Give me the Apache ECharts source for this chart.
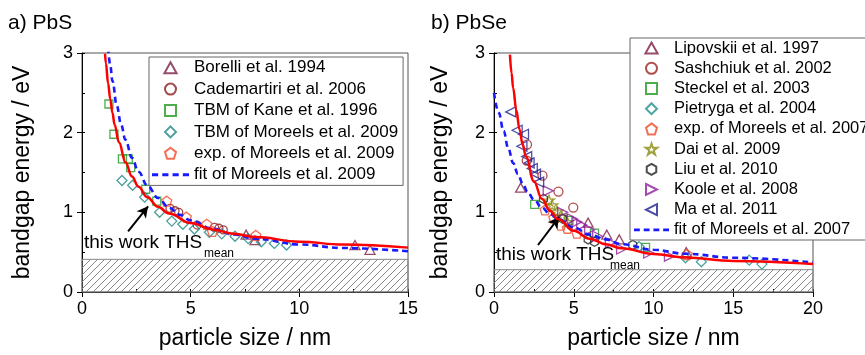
<!DOCTYPE html>
<html><head><meta charset="utf-8">
<script src="https://cdn.jsdelivr.net/npm/echarts@6/dist/echarts.min.js"></script>
<style>html,body{margin:0;padding:0;background:#fff}#c{width:865px;height:355px}</style>
</head><body><div id="c"></div>
<script>
// ---------- tick labels ----------
const xTicksPbS = [0, 5, 10, 15];
const xTicksPbSe = [0, 5, 10, 15, 20];
const yTicks = [0, 1, 2, 3];

// ---------- a) PbS : [particle size nm, bandgap eV] ----------
const borelli1994 = [[7.55,0.72],[7.96,0.65],[12.56,0.59],[13.25,0.53]];
const cademartiri2006 = [[4.05,1.05],[4.28,1.02],[4.45,1.00],[5.3,0.84],[6.1,0.81],[6.3,0.80],[6.5,0.78]];
const tbmKane1996 = [[1.24,2.36],[1.47,1.98],[1.86,1.67],[2.13,1.67],[2.24,1.56],[2.93,1.29],[3.44,1.14]];
const tbmMoreels2009 = [[1.84,1.40],[2.33,1.34],[2.88,1.19],[3.57,1.00],[4.13,0.89],[4.64,0.85],[5.17,0.79],[5.86,0.75],[6.43,0.73],[7.04,0.70],[7.65,0.67],[8.25,0.63],[8.85,0.61],[9.41,0.59]];
const expMoreels2009 = [[3.9,1.14],[4.8,0.94],[5.74,0.85],[6.0,0.76],[8.0,0.71]];
const fitMoreels2009 = [[1.2,3.07],[1.3,2.85],[1.4,2.65],[1.6,2.34],[1.8,2.10],[2.0,1.91],[2.3,1.685],[2.6,1.51],[3.0,1.34],[3.5,1.18],[4.0,1.06],[4.5,0.97],[5,0.899],[6,0.794],[7,0.721],[8,0.668],[10,0.597],[12,0.552],[15,0.511]];
const thisWorkPbS = [[1.06,2.99],[1.1,2.87],[1.2,2.62],[1.3,2.42],[1.4,2.25],[1.5,2.10],[1.7,1.88],[2.0,1.63],[2.3,1.45],[2.6,1.32],[3.0,1.19],[3.5,1.07],[4,0.985],[5,0.865],[6,0.786],[7,0.73],[8,0.689],[10,0.632],[12,0.595],[15,0.557]];
const bulkPbS = 0.41;
const arrowPbS = [[2.12,0.76],[3.04,1.075]];

// ---------- b) PbSe ----------
const lipovskii1997 = [[1.67,1.31],[5.9,0.87],[7.07,0.72],[7.85,0.66],[12.05,0.50]];
const sashchiuk2002 = [[2.07,1.85],[2.05,1.65],[3.04,1.46],[4.04,1.26],[4.97,1.06]];
const steckel2003 = [[2.55,1.10],[4.7,0.90],[6.3,0.74],[9.5,0.56]];
const pietryga2004 = [[9.1,0.57],[12.0,0.43],[13.0,0.38],[16.0,0.40],[16.8,0.35]];
const expMoreels2007 = [[3.2,1.03],[3.75,0.93],[4.2,0.84],[4.6,0.80],[5.2,0.74],[12.1,0.47]];
const dai2009 = [[3.45,1.15],[3.65,1.09],[3.95,1.01],[4.25,0.95],[4.6,0.88]];
const liu2010 = [[3.1,1.17],[4.3,0.92],[5.9,0.66],[6.3,0.63],[8.7,0.59]];
const koole2008 = [[3.4,1.27],[4.3,1.00],[4.9,0.92],[5.2,0.88],[5.5,0.84],[6.0,0.78],[6.5,0.70],[7.3,0.62],[8.0,0.54],[9.7,0.49],[11.0,0.45]];
const ma2011 = [[1.05,2.26],[1.45,2.03],[1.85,1.98],[1.75,1.83],[2.05,1.70],[2.2,1.62],[2.4,1.55],[2.6,1.48],[2.8,1.38]];
const fitMoreels2007 = [[0,2.50],[0.3,2.25],[0.6,2.02],[0.9,1.80],[1.2,1.62],[1.5,1.48],[1.8,1.36],[2.1,1.26],[2.5,1.16],[3.0,1.06],[3.5,0.98],[4,0.92],[5,0.81],[6,0.72],[7,0.66],[8,0.60],[10,0.53],[12,0.48],[15,0.43],[20,0.37]];
const thisWorkPbSe = [[1.0,2.98],[1.1,2.75],[1.2,2.56],[1.4,2.28],[1.6,2.04],[1.8,1.85],[2.0,1.70],[2.5,1.39],[3,1.17],[3.5,1.02],[4,0.917],[5,0.768],[6,0.669],[7,0.60],[8,0.548],[10,0.478],[12,0.433],[15,0.39],[20,0.351]];
const bulkPbSe = 0.28;
const arrowPbSe = [[2.76,0.59],[4.08,0.94]];

// ---------- styling ----------
const FF = '"Liberation Sans", Arial, sans-serif';
const P = {
  triangle: 'path://M5,0 L10,9 L0,9 Z',
  rect: 'path://M0,0 L10,0 L10,10 L0,10 Z',
  diamond: 'path://M5,0 L10,5 L5,10 L0,5 Z',
  pentagon: 'path://M5,0 L10,3.8 L8.1,10 L1.9,10 L0,3.8 Z',
  star: 'path://M5,0 L6.2,3.6 L10,3.6 L6.9,5.9 L8.1,9.6 L5,7.3 L1.9,9.6 L3.1,5.9 L0,3.6 L3.8,3.6 Z',
  hexagon: 'path://M5,0 L9.33,2.5 L9.33,7.5 L5,10 L0.67,7.5 L0.67,2.5 Z',
  right: 'path://M0,0 L10,5 L0,10 Z',
  left: 'path://M10,0 L0,5 L10,10 Z'
};
const DASH_ICON = 'path://M0,0h6v3h-6zM10,0h6v3h-6zM20,0h6v3h-6zM30,0h6v3h-6z';

function hatch() {
  const c = document.createElement('canvas');
  c.width = 7; c.height = 7;
  const g = c.getContext('2d');
  g.strokeStyle = '#7a7a7a'; g.lineWidth = 0.9;
  g.beginPath();
  g.moveTo(0, 7); g.lineTo(7, 0);
  g.moveTo(-1, 1); g.lineTo(1, -1);
  g.moveTo(6, 8); g.lineTo(8, 6);
  g.stroke();
  return c;
}
const hatchImg = hatch();

function sc(name, data, sym, size, color, gi) {
  return {
    name, type: 'scatter', data, symbol: sym, symbolSize: size, symbolKeepAspect: true,
    xAxisIndex: gi * 2, yAxisIndex: gi * 2, z: 3,
    itemStyle: { color: 'transparent', borderColor: color, borderWidth: 1.3 },
    emphasis: { disabled: true }
  };
}
function fitLine(name, data, gi) {
  return {
    name, type: 'line', data, xAxisIndex: gi * 2, yAxisIndex: gi * 2, symbol: 'none', z: 4,
    smooth: 0.4, smoothMonotone: 'x',
    lineStyle: { color: '#1a1aff', width: 2.6, type: [6, 4] }, itemStyle: { color: '#1a1aff' }
  };
}
function redLine(name, data, gi, bulk, arrow) {
  return {
    name, type: 'line', data, xAxisIndex: gi * 2, yAxisIndex: gi * 2, symbol: 'none', z: 5,
    smooth: 0.4, smoothMonotone: 'x',
    lineStyle: { color: '#ff0000', width: 2.5 }, itemStyle: { color: '#ff0000' },
    markArea: {
      silent: true,
      itemStyle: { color: { image: hatchImg, repeat: 'repeat' }, borderColor: '#888', borderWidth: 1 },
      data: [[{ yAxis: 0 }, { yAxis: bulk }]]
    },
    markLine: {
      silent: true, symbol: ['none', 'arrow'], symbolSize: [9, 11],
      lineStyle: { color: '#000', width: 2, type: 'solid' }, label: { show: false },
      data: [[{ coord: arrow[0] }, { coord: arrow[1] }]]
    }
  };
}

function xAxes(gi, ticks) {
  const min = ticks[0], max = ticks[ticks.length - 1], iv = ticks[1] - ticks[0];
  return [{
    gridIndex: gi, type: 'value', min, max, interval: iv, position: 'bottom',
    axisLine: { show: true, lineStyle: { color: '#000', width: 1 } },
    axisTick: { show: true, inside: false, length: 5, lineStyle: { color: '#000' } },
    axisLabel: { fontSize: 18, color: '#000', margin: 8, fontFamily: FF },
    splitLine: { show: false },
    name: 'particle size / nm', nameLocation: 'middle', nameGap: 35,
    nameTextStyle: { fontSize: 23, color: '#000', fontFamily: FF }
  }, {
    gridIndex: gi, type: 'value', min, max, interval: iv / 2, position: 'bottom',
    axisLine: { show: false }, axisTick: { show: true, inside: true, length: 3, lineStyle: { color: '#000' } },
    axisLabel: { show: false }, splitLine: { show: false }
  }];
}
function yAxes(gi, gap) {
  const min = yTicks[0], max = yTicks[yTicks.length - 1], iv = yTicks[1] - yTicks[0];
  return [{
    gridIndex: gi, type: 'value', min, max, interval: iv, position: 'left',
    axisLine: { show: true, lineStyle: { color: '#000', width: 1 } },
    axisTick: { show: true, inside: false, length: 5, lineStyle: { color: '#000' } },
    axisLabel: { fontSize: 18, color: '#000', margin: 9, fontFamily: FF },
    splitLine: { show: false },
    name: 'bandgap energy / eV', nameLocation: 'middle', nameGap: gap, nameRotate: 90,
    nameTextStyle: { fontSize: 23, color: '#000', fontFamily: FF }
  }, {
    gridIndex: gi, type: 'value', min, max, interval: iv / 2, position: 'left',
    axisLine: { show: false }, axisTick: { show: true, inside: true, length: 3, lineStyle: { color: '#000' } },
    axisLabel: { show: false }, splitLine: { show: false }
  }];
}

const legendBase = {
  orient: 'vertical', itemGap: 0, itemHeight: 11, selectedMode: false,
  borderColor: '#666', borderWidth: 1, backgroundColor: '#fff', borderRadius: 0
};
function legendItems(names) {
  return names.map((n, i) => i === names.length - 1 ? { name: n, icon: DASH_ICON } : { name: n });
}

const chart = echarts.init(document.getElementById('c'), null, { renderer: 'canvas' });
chart.setOption({
  animation: false,
  backgroundColor: '#fff',
  grid: [
    { left: 82, top: 53, width: 326, height: 240, show: true, borderColor: '#555', borderWidth: 1, backgroundColor: 'transparent' },
    { left: 494, top: 53, width: 319, height: 239, show: true, borderColor: '#555', borderWidth: 1, backgroundColor: 'transparent' }
  ],
  xAxis: [...xAxes(0, xTicksPbS), ...xAxes(1, xTicksPbSe)],
  yAxis: [...yAxes(0, 48), ...yAxes(1, 42)],
  legend: [
    Object.assign({}, legendBase, {
      left: 149, top: 57, padding: [0, 5, 0, 3], itemWidth: 37,
      textStyle: { fontSize: 17, color: '#000', fontFamily: FF, lineHeight: 21.4 },
      data: legendItems(['Borelli et al. 1994', 'Cademartiri et al. 2006', 'TBM of Kane et al. 1996', 'TBM of Moreels et al. 2009', 'exp. of Moreels et al. 2009', 'fit of Moreels et al. 2009'])
    }),
    Object.assign({}, legendBase, {
      left: 630, top: 38, padding: [0, 5, 0, 4], itemWidth: 35,
      textStyle: { fontSize: 16.5, color: '#000', fontFamily: FF, lineHeight: 20.2 },
      data: legendItems(['Lipovskii et al. 1997', 'Sashchiuk et al. 2002', 'Steckel et al. 2003', 'Pietryga et al. 2004', 'exp. of Moreels et al. 2007', 'Dai et al. 2009', 'Liu et al. 2010', 'Koole et al. 2008', 'Ma et al. 2011', 'fit of Moreels et al. 2007'])
    })
  ],
  graphic: [
    { type: 'text', left: 8, top: 13, z: 100, style: { text: 'a) PbS', font: '21px ' + FF, fill: '#000' } },
    { type: 'text', left: 431, top: 13, z: 100, style: { text: 'b) PbSe', font: '21px ' + FF, fill: '#000' } },
    { type: 'text', left: 84, top: 233, z: 100, style: { text: 'this work THS', font: '19px ' + FF, fill: '#000' } },
    { type: 'text', left: 204, top: 248, z: 100, style: { text: 'mean', font: '12px ' + FF, fill: '#000' } },
    { type: 'text', left: 496, top: 245, z: 100, style: { text: 'this work THS', font: '19px ' + FF, fill: '#000' } },
    { type: 'text', left: 610, top: 260, z: 100, style: { text: 'mean', font: '12px ' + FF, fill: '#000' } }
  ],
  series: [
    sc('Borelli et al. 1994', borelli1994, P.triangle, 10, '#7a1f45', 0),
    sc('Cademartiri et al. 2006', cademartiri2006, 'circle', 8, '#8b1d1d', 0),
    sc('TBM of Kane et al. 1996', tbmKane1996, P.rect, 8, '#229a22', 0),
    sc('TBM of Moreels et al. 2009', tbmMoreels2009, P.diamond, 10, '#1f8585', 0),
    sc('exp. of Moreels et al. 2009', expMoreels2009, P.pentagon, 10, '#f04a2a', 0),
    fitLine('fit of Moreels et al. 2009', fitMoreels2009, 0),
    redLine('this work PbS', thisWorkPbS, 0, bulkPbS, arrowPbS),

    sc('Lipovskii et al. 1997', lipovskii1997, P.triangle, 10, '#7a1f45', 1),
    sc('Sashchiuk et al. 2002', sashchiuk2002, 'circle', 9, '#a01f1f', 1),
    sc('Steckel et al. 2003', steckel2003, P.rect, 8, '#229a22', 1),
    sc('Pietryga et al. 2004', pietryga2004, P.diamond, 10, '#1f8f8f', 1),
    sc('exp. of Moreels et al. 2007', expMoreels2007, P.pentagon, 10, '#f04a2a', 1),
    sc('Dai et al. 2009', dai2009, P.star, 11, '#8a8a10', 1),
    sc('Liu et al. 2010', liu2010, P.hexagon, 9, '#222222', 1),
    sc('Koole et al. 2008', koole2008, P.right, 10, '#8e1f9e', 1),
    sc('Ma et al. 2011', ma2011, P.left, 10, '#1f1f8e', 1),
    fitLine('fit of Moreels et al. 2007', fitMoreels2007, 1),
    redLine('this work PbSe', thisWorkPbSe, 1, bulkPbSe, arrowPbSe)
  ]
});
</script></body></html>
